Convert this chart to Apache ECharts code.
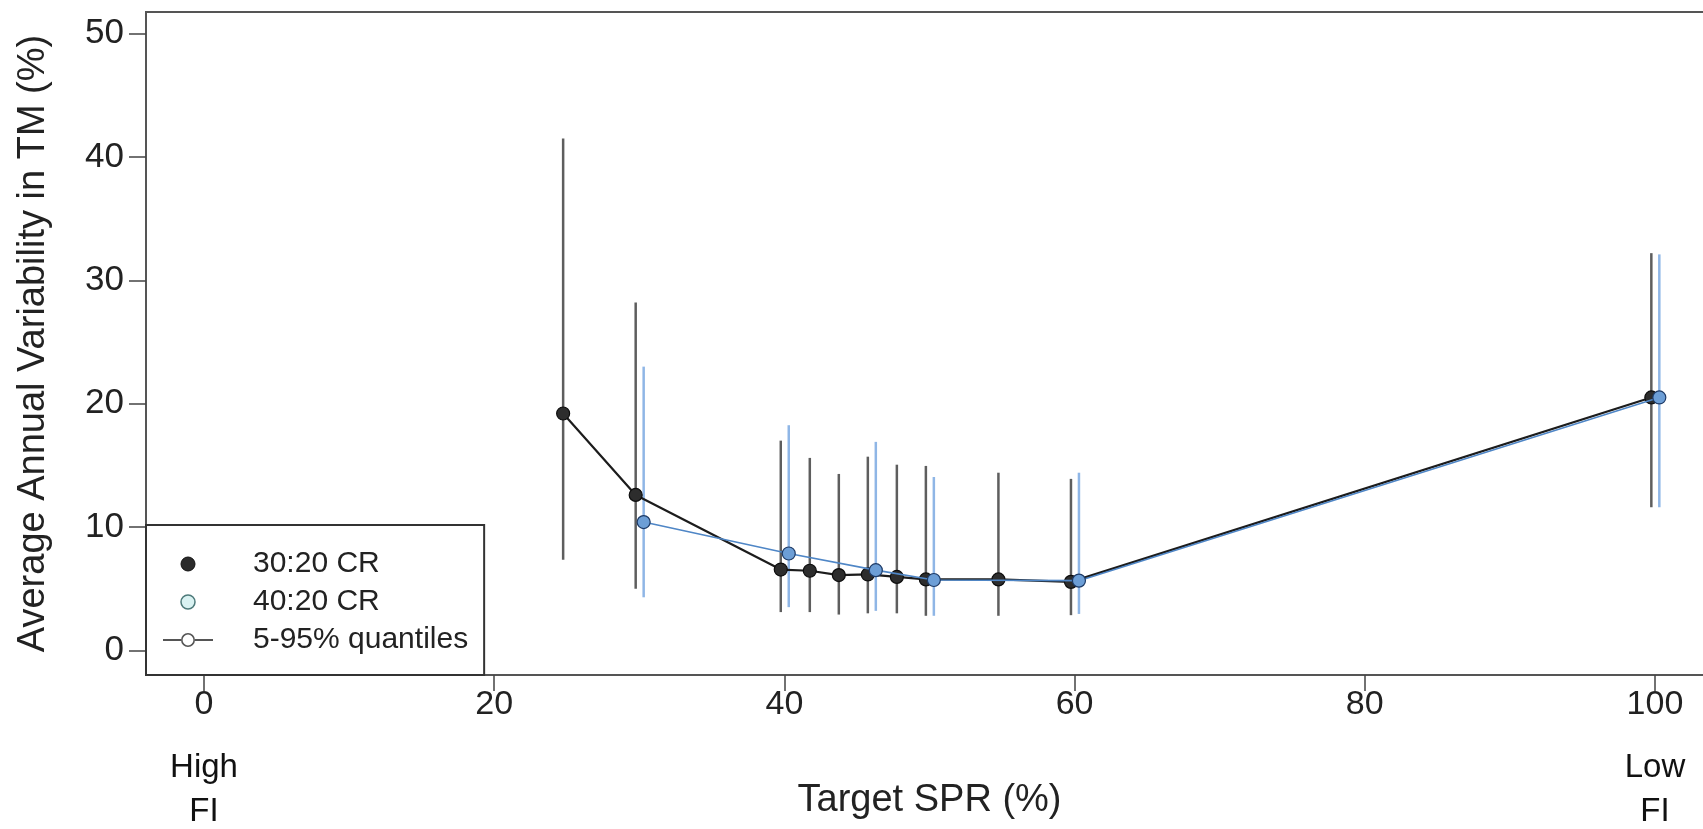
<!DOCTYPE html>
<html>
<head>
<meta charset="utf-8">
<title>Average Annual Variability in TM vs Target SPR</title>
<script src="https://cdn.jsdelivr.net/npm/echarts@6/dist/echarts.min.js"></script>
<style>
  html, body { margin: 0; padding: 0; background: #fff; }
  #chart { width: 1703px; height: 829px; }
</style>
</head>
<body>
<div id="chart"></div>
<script>
// Target SPR (%) levels for each control rule
const spr3020 = [25, 30, 40, 42, 44, 46, 48, 50, 55, 60, 100];
const mean3020 = [19.2, 12.6, 6.55, 6.45, 6.1, 6.15, 5.95, 5.75, 5.75, 5.55, 20.5];
const q05_3020 = [7.35, 5.0, 3.1, 3.1, 2.9, 3.0, 3.0, 2.8, 2.8, 2.85, 11.6];
const q95_3020 = [41.5, 28.2, 17.0, 15.6, 14.3, 15.7, 15.05, 14.95, 14.4, 13.9, 32.2];

const spr4020 = [30, 40, 46, 50, 60, 100];
const mean4020 = [10.4, 7.85, 6.5, 5.7, 5.65, 20.5];
const q05_4020 = [4.3, 3.5, 3.2, 2.8, 2.95, 11.6];
const q95_4020 = [23.0, 18.25, 16.9, 14.05, 14.4, 32.1];

// Axis ticks and the fishing-intensity notes under the ends of the x axis
const xTicks = [0, 20, 40, 60, 80, 100];
const yTicks = [0, 10, 20, 30, 40, 50];
const fiNotes = { 0: ['High', 'FI'], 100: ['Low', 'FI'] };

const FONT = '"Liberation Sans", Arial, Helvetica, sans-serif';
// small horizontal dodge so the two rules' quantile bars do not overlap
const DODGE_A = -0.25;
const DODGE_B = 0.3;

const pts = (xs, ys, d) => xs.map((x, i) => [x + d, ys[i]]);
const bars = (xs, lo, hi, d) => xs.map((x, i) => [x + d, lo[i], hi[i]]);

function errorBar(color) {
  return function (params, api) {
    const x = api.value(0);
    const p1 = api.coord([x, api.value(1)]);
    const p2 = api.coord([x, api.value(2)]);
    return {
      type: 'line',
      shape: { x1: p1[0], y1: p1[1], x2: p2[0], y2: p2[1] },
      style: { stroke: color, lineWidth: 2.5 }
    };
  };
}

// legend icon: short line through an open circle
const quantIcon = 'path://M0 6L18 6L18 8L0 8Z' +
  'M32 7A7 7 0 1 0 18 7A7 7 0 1 0 32 7Z' +
  'M30.4 7A5.4 5.4 0 1 1 19.6 7A5.4 5.4 0 1 1 30.4 7Z' +
  'M32 6L50 6L50 8L32 8Z';

const chart = echarts.init(document.getElementById('chart'), null, { renderer: 'canvas' });

chart.setOption({
  animation: false,
  backgroundColor: '#fff',
  textStyle: { fontFamily: FONT },
  grid: {
    left: 146, right: -10, top: 12, bottom: 154,
    outerBoundsMode: 'none',
    containLabel: false,
    show: true, borderColor: '#555', borderWidth: 2, backgroundColor: 'transparent'
  },
  legend: {
    orient: 'vertical',
    left: 146, bottom: 154,
    padding: [24, 16, 20, 17],
    itemGap: 8,
    itemWidth: 50, itemHeight: 14,
    backgroundColor: '#fff',
    borderColor: '#333', borderWidth: 2, borderRadius: 0,
    selectedMode: false,
    textStyle: { fontFamily: FONT, fontSize: 30, lineHeight: 30, color: '#222', padding: [0, 0, 0, 35] },
    data: [
      { name: '30:20 CR', icon: 'circle', itemStyle: { color: '#2b2b2b', borderColor: '#111', borderWidth: 1 } },
      { name: '40:20 CR', icon: 'circle', itemStyle: { color: '#d9f2f2', borderColor: '#4d7a7a', borderWidth: 1.5 } },
      { name: '5-95% quantiles', icon: quantIcon, itemStyle: { color: '#555', borderWidth: 0 } }
    ]
  },
  xAxis: {
    type: 'value',
    min: -4, max: 104,
    name: 'Target SPR (%)',
    nameLocation: 'middle',
    nameGap: 107,
    nameMoveOverlap: false,
    nameTextStyle: { fontFamily: FONT, fontSize: 38, color: '#222' },
    axisLine: { show: false, onZero: false },
    splitLine: { show: false },
    axisTick: { show: true, length: 16, customValues: xTicks, lineStyle: { color: '#444', width: 1.5 } },
    axisLabel: {
      customValues: xTicks,
      margin: -12,
      fontFamily: FONT,
      color: '#222',
      formatter: function (v) {
        const note = fiNotes[v];
        let s = '{t|' + v + '}';
        if (note) s += '\n{f|' + note[0] + '}\n{f|' + note[1] + '}';
        return s;
      },
      rich: {
        t: { fontFamily: FONT, fontSize: 34, lineHeight: 83, color: '#222' },
        f: { fontFamily: FONT, fontSize: 33, lineHeight: 44, color: '#111' }
      }
    }
  },
  yAxis: {
    type: 'value',
    min: -2, max: 51.75,
    name: 'Average Annual Variability in TM (%)',
    nameLocation: 'middle',
    nameGap: 93,
    nameMoveOverlap: false,
    nameTextStyle: { fontFamily: FONT, fontSize: 38, color: '#222' },
    axisLine: { show: false, onZero: false },
    splitLine: { show: false },
    axisTick: { show: true, length: 17, customValues: yTicks, lineStyle: { color: '#444', width: 1.5 } },
    axisLabel: { customValues: yTicks, margin: 22, fontFamily: FONT, fontSize: 35, color: '#222' }
  },
  series: [
    {
      name: '5-95% quantiles',
      type: 'custom',
      renderItem: errorBar('#5e5e5e'),
      encode: { x: 0, y: [1, 2] },
      data: bars(spr3020, q05_3020, q95_3020, DODGE_A),
      z: 1
    },
    {
      name: '5-95% quantiles (40:20)',
      type: 'custom',
      renderItem: errorBar('#8fb6e6'),
      encode: { x: 0, y: [1, 2] },
      data: bars(spr4020, q05_4020, q95_4020, DODGE_B),
      z: 1
    },
    {
      name: '30:20 CR',
      type: 'line',
      data: pts(spr3020, mean3020, DODGE_A),
      symbol: 'circle',
      symbolSize: 13,
      showAllSymbol: true,
      lineStyle: { color: '#1c1c1c', width: 2.2 },
      itemStyle: { color: '#2d2d2d', borderColor: '#0d0d0d', borderWidth: 1.2 },
      z: 3
    },
    {
      name: '40:20 CR',
      type: 'line',
      data: pts(spr4020, mean4020, DODGE_B),
      symbol: 'circle',
      symbolSize: 13,
      showAllSymbol: true,
      lineStyle: { color: '#4f86c6', width: 1.6 },
      itemStyle: { color: '#6c9ed6', borderColor: '#1d3a66', borderWidth: 1.2 },
      z: 4
    }
  ]
});
</script>
</body>
</html>
